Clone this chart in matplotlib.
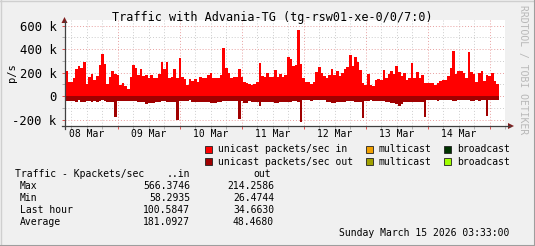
import numpy as np
import matplotlib
matplotlib.use("Agg")
import matplotlib.pyplot as plt
from matplotlib.patches import Rectangle, Polygon
from matplotlib.lines import Line2D

W, H = 535, 246
MONO = "DejaVu Sans Mono"

# hourly values in k packets/sec, one week ending Sun Mar 15 2026 03:33
in_kpps = [
    212, 119, 119, 153, 229, 254, 240, 288, 105, 161, 186, 136, 169, 263, 356, 271, 105, 161, 212, 186, 178, 93, 110, 90, 59, 161, 263, 237,
    178, 229, 169, 178, 153, 178, 153, 153, 186, 288, 229, 288, 153, 161, 229, 153, 322, 161, 144, 93, 144, 127, 144, 119, 161, 153, 153, 178,
    195, 153, 153, 153, 178, 407, 237, 195, 153, 161, 161, 229, 161, 119, 110, 102, 93, 102, 119, 280, 169, 161, 195, 161, 161, 220, 161, 186,
    161, 178, 330, 314, 254, 263, 566, 271, 153, 119, 119, 102, 119, 203, 246, 195, 169, 153, 178, 229, 178, 212, 169, 195, 229, 246, 347, 254,
    330, 288, 220, 110, 93, 186, 93, 85, 136, 144, 136, 220, 153, 186, 212, 186, 254, 203, 169, 195, 136, 153, 280, 153, 203, 153, 178, 110,
    110, 110, 110, 93, 110, 127, 136, 136, 169, 237, 381, 186, 212, 212, 195, 153, 373, 203, 186, 119, 195, 212, 127, 178, 169, 195, 127, 102,
]
out_kpps = [
    37, 37, 37, 37, 45, 31, 45, 51, 40, 40, 51, 40, 45, 40, 31, 40, 45, 45, 51, 178, 40, 37, 37, 37, 40, 37, 37, 37,
    45, 45, 45, 65, 56, 56, 56, 45, 45, 40, 40, 45, 45, 45, 45, 205, 40, 40, 40, 40, 31, 45, 45, 45, 51, 51, 51, 51,
    56, 56, 56, 45, 45, 40, 40, 40, 40, 40, 40, 192, 40, 56, 56, 40, 51, 51, 51, 82, 45, 45, 51, 51, 51, 56, 56, 45,
    45, 45, 45, 45, 40, 40, 45, 214, 31, 31, 31, 40, 31, 31, 31, 31, 31, 45, 45, 56, 56, 45, 45, 51, 51, 40, 40, 40,
    45, 45, 45, 184, 40, 40, 31, 40, 40, 40, 40, 40, 51, 51, 56, 56, 68, 82, 68, 51, 45, 45, 45, 45, 45, 51, 51, 178,
    31, 31, 31, 31, 40, 31, 31, 31, 31, 31, 40, 40, 31, 31, 31, 31, 31, 40, 40, 31, 40, 31, 31, 167, 31, 31, 31, 35,
]

day_labels = ["08 Mar", "09 Mar", "10 Mar", "11 Mar", "12 Mar", "13 Mar", "14 Mar"]
first_midnight = 20.45  # hours from start (03:33) to next midnight
y_major = [-200, 0, 200, 400, 600]
y_major_labels = ["-200 k", "0", "200 k", "400 k", "600 k"]
y_minor = [-100, 100, 300, 500]

legend_rows = [
    [("#FF0000", "unicast packets/sec in"), ("#F0A000", "multicast"), ("#003300", "broadcast")],
    [("#A00000", "unicast packets/sec out"), ("#A0A000", "multicast"), ("#A0FF00", "broadcast")],
]
stat_names = ["Max", "Min", "Last hour", "Average"]
stat_in = ["566.3746", "58.2935", "100.5847", "181.0927"]
stat_out = ["214.2586", "26.4744", "34.6630", "48.4680"]


def fx(x):
    return x / W


def fy(y):
    return 1 - y / H


fig = plt.figure(figsize=(W / 100, H / 100), dpi=100, facecolor="#F0F0F0")

ax = fig.add_axes([fx(65), fy(126), fx(440), 106 / H])
ax.set_facecolor("white")

edges = np.arange(len(in_kpps) + 1)
ax.stairs(in_kpps, edges, baseline=0, fill=True, color="#FF0000", zorder=2)
ax.stairs(-np.array(out_kpps), edges, baseline=0, fill=True, color="#A00000", zorder=2)

ax.set_xlim(0, 168.8)
ax.set_ylim(-252, 647)

midnights = [first_midnight + 24 * k for k in range(7)]
six_hours = [first_midnight - 18 + 6 * k for k in range(29) if (6 * k) % 24 != 18]
ax.set_xticks(midnights)
ax.set_xticks(six_hours, minor=True)
ax.set_xticklabels([])
ax.set_yticks(y_major)
ax.set_yticks(y_minor, minor=True)
ax.set_yticklabels(y_major_labels, fontfamily=MONO, fontsize=8.8)

dots = (0, (1, 2))
ax.grid(which="major", color="#E8A0A0", linestyle=dots, linewidth=0.7, zorder=1)
ax.grid(which="minor", color="#CDCDCD", linestyle=dots, linewidth=0.7, zorder=1)
ax.set_axisbelow(True)

ax.tick_params(which="major", axis="x", length=2, color="#E05050", width=0.7)
ax.tick_params(which="minor", axis="x", length=2, color="#B0B0B0", width=0.7)
ax.tick_params(which="major", axis="y", length=2, color="#E05050", width=0.7, pad=4)
ax.tick_params(which="minor", axis="y", length=2, color="#B0B0B0", width=0.7)

for s in ax.spines.values():
    s.set_visible(False)

# day labels centred at noon
xtr = ax.get_xaxis_transform()
for k, lab in enumerate(day_labels):
    ax.text(first_midnight - 12 + 24 * k, -0.08, lab, transform=xtr, ha="center", va="center",
            fontfamily=MONO, fontsize=7, clip_on=False)

# axis lines with arrows
axis_col = "#404040"
arrow_col = "#7F1F1F"
fig.add_artist(Line2D([fx(62), fx(510)], [fy(126), fy(126)], color=axis_col, lw=0.9))
fig.add_artist(Line2D([fx(64.5), fx(64.5)], [fy(129), fy(21)], color=axis_col, lw=0.9))
fig.add_artist(Polygon([[fx(508), fy(123)], [fx(514), fy(126)], [fx(508), fy(129)]], closed=True,
                       color=arrow_col, lw=0))
fig.add_artist(Polygon([[fx(61.5), fy(23)], [fx(64.5), fy(17)], [fx(67.5), fy(23)]], closed=True,
                       color=arrow_col, lw=0))

# title, unit label, watermark
fig.text(fx(272), fy(17), "Traffic with Advania-TG (tg-rsw01-xe-0/0/7:0)", ha="center", va="center",
         fontfamily=MONO, fontsize=8.5)
fig.text(fx(12), fy(73), "p/s", rotation=90, ha="center", va="center", fontfamily=MONO, fontsize=7.5)
fig.text(fx(523), fy(5), "RRDTOOL / TOBI OETIKER", rotation=270, ha="center", va="top",
         fontfamily=MONO, fontsize=7, color="#B8B8B8")

# legend
row_y = [149.5, 161.8]
col_sq = [205, 366, 444]
for r, row in enumerate(legend_rows):
    for c, (col, lab) in enumerate(row):
        fig.add_artist(Rectangle((fx(col_sq[c]), fy(row_y[r] + 3.5)), 7 / W, 7 / H, facecolor=col,
                                 edgecolor="#202020", lw=0.6))
        fig.text(fx(col_sq[c] + 13), fy(row_y[r]), lab, ha="left", va="center", fontfamily=MONO, fontsize=7)

# statistics block
fig.text(fx(15), fy(174), "Traffic - Kpackets/sec", ha="left", va="center", fontfamily=MONO, fontsize=7)
fig.text(fx(190), fy(174), "..in", ha="right", va="center", fontfamily=MONO, fontsize=7)
fig.text(fx(271), fy(174), "out", ha="right", va="center", fontfamily=MONO, fontsize=7)
for i, name in enumerate(stat_names):
    yy = 186 + 11.9 * i
    fig.text(fx(20), fy(yy), name, ha="left", va="center", fontfamily=MONO, fontsize=7)
    fig.text(fx(190), fy(yy), stat_in[i], ha="right", va="center", fontfamily=MONO, fontsize=7)
    fig.text(fx(274), fy(yy), stat_out[i], ha="right", va="center", fontfamily=MONO, fontsize=7)

fig.text(fx(509), fy(233.5), "Sunday March 15 2026 03:33:00", ha="right", va="center", fontfamily=MONO, fontsize=7)

# frame shading
fig.add_artist(Line2D([0, 1], [fy(0.5), fy(0.5)], color="#CFCFCF", lw=1))
fig.add_artist(Line2D([fx(0.5), fx(0.5)], [0, 1], color="#CFCFCF", lw=1))
fig.add_artist(Line2D([0, 1], [fy(245.5), fy(245.5)], color="#9E9E9E", lw=1.5))
fig.add_artist(Line2D([fx(534.5), fx(534.5)], [0, 1], color="#9E9E9E", lw=1.5))

fig.savefig("out.png", dpi=100, facecolor=fig.get_facecolor())
